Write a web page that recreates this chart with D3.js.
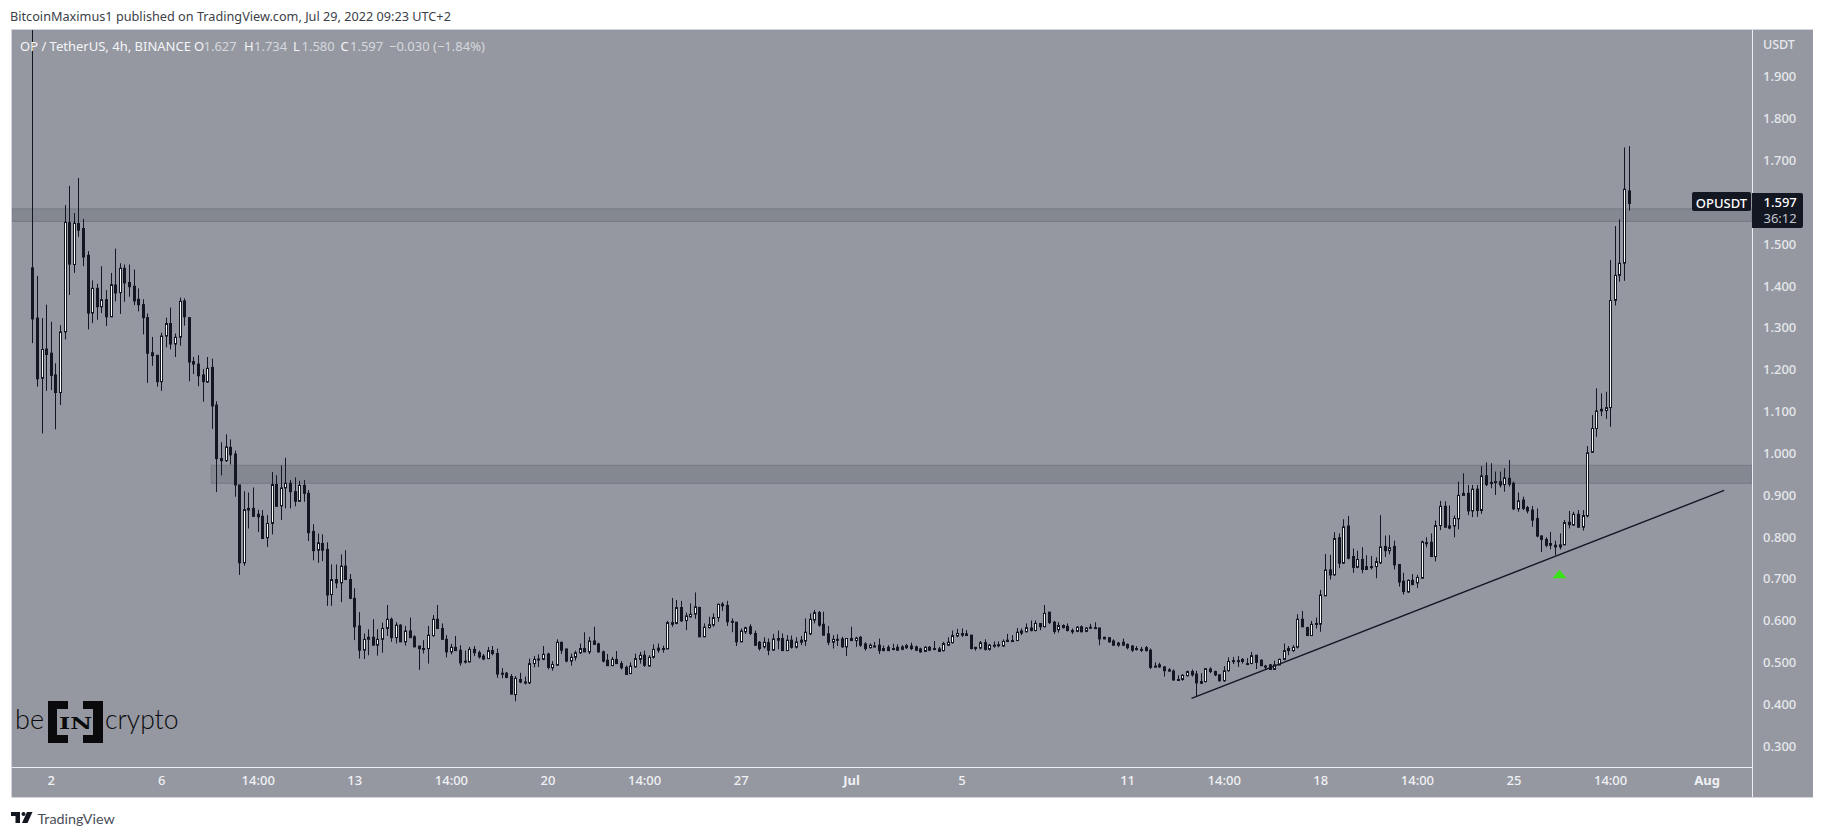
<!DOCTYPE html>
<html>
<head>
<meta charset="utf-8">
<title>OPUSDT</title>
<script src="https://cdn.jsdelivr.net/npm/d3@7"></script>
<style>
body { margin: 0; background: #fff; }
svg { display: block; font-family: "Noto Sans", sans-serif; }
</style>
</head>
<body>
<svg id="chart" width="1824" height="837"></svg>
<script>
// 4h candles
var opens = [
1.443,1.323,1.179,1.249,1.239,1.187,1.145,1.290,1.551,1.451,
1.549,1.537,1.473,1.335,1.394,1.350,1.367,1.326,1.402,1.384,
1.442,1.408,1.399,1.368,1.355,1.324,1.240,1.234,1.171,1.280,
1.310,1.261,1.277,1.364,1.324,1.219,1.213,1.187,1.170,1.205,
1.115,0.987,0.982,1.014,0.998,0.924,0.738,0.868,0.868,0.854,
0.849,0.798,0.832,0.925,0.874,0.917,0.928,0.908,0.885,0.923,
0.904,0.813,0.768,0.784,0.770,0.662,0.698,0.690,0.730,0.698,
0.653,0.587,0.529,0.555,0.560,0.541,0.555,0.581,0.603,0.559,
0.589,0.549,0.575,0.561,0.539,0.533,0.533,0.564,0.603,0.581,
0.555,0.525,0.536,0.529,0.503,0.501,0.531,0.523,0.515,0.509,
0.528,0.521,0.474,0.474,0.466,0.423,0.459,0.453,0.451,0.497,
0.508,0.507,0.520,0.487,0.493,0.548,0.532,0.503,0.512,0.523,
0.533,0.525,0.551,0.544,0.525,0.505,0.492,0.507,0.497,0.488,
0.473,0.489,0.507,0.517,0.491,0.512,0.534,0.533,0.532,0.595,
0.593,0.631,0.600,0.609,0.615,0.631,0.561,0.583,0.589,0.607,
0.639,0.636,0.598,0.596,0.549,0.573,0.585,0.569,0.548,0.537,
0.547,0.529,0.557,0.557,0.528,0.553,0.536,0.548,0.551,0.568,
0.601,0.619,0.591,0.568,0.548,0.555,0.556,0.537,0.557,0.552,
0.560,0.544,0.535,0.539,0.541,0.533,0.536,0.533,0.536,0.531,
0.535,0.539,0.537,0.532,0.526,0.536,0.533,0.532,0.528,0.541,
0.547,0.563,0.569,0.568,0.565,0.536,0.534,0.547,0.531,0.541,
0.542,0.539,0.553,0.552,0.552,0.575,0.573,0.582,0.576,0.593,
0.585,0.620,0.596,0.578,0.588,0.586,0.576,0.574,0.585,0.574,
0.584,0.583,0.582,0.560,0.559,0.551,0.541,0.548,0.543,0.539,
0.533,0.531,0.535,0.529,0.491,0.494,0.489,0.482,0.479,0.459,
0.459,0.468,0.478,0.472,0.454,0.454,0.484,0.478,0.470,0.456,
0.480,0.504,0.504,0.507,0.497,0.497,0.517,0.505,0.491,0.494,
0.483,0.494,0.507,0.533,0.528,0.536,0.603,0.583,0.564,0.593,
0.591,0.659,0.721,0.709,0.798,0.737,0.826,0.753,0.727,0.746,
0.729,0.729,0.729,0.738,0.777,0.767,0.777,0.734,0.694,0.668,
0.696,0.690,0.701,0.786,0.787,0.753,0.827,0.873,0.826,0.826,
0.843,0.899,0.904,0.862,0.914,0.863,0.946,0.930,0.932,0.932,
0.925,0.940,0.928,0.867,0.888,0.870,0.864,0.844,0.802,0.794,
0.784,0.780,0.776,0.781,0.835,0.828,0.854,0.823,0.850,1.002,
1.059,1.105,1.102,1.109,1.365,1.425,1.454,1.627];

var highs = [
2.200,1.424,1.323,1.355,1.314,1.215,1.306,1.593,1.639,1.574,
1.658,1.560,1.483,1.413,1.405,1.447,1.390,1.431,1.489,1.454,
1.451,1.451,1.439,1.394,1.368,1.334,1.278,1.234,1.288,1.324,
1.348,1.286,1.372,1.370,1.324,1.230,1.234,1.201,1.230,1.226,
1.124,1.026,1.045,1.033,1.006,0.924,0.909,0.906,0.918,0.865,
0.864,0.852,0.955,0.947,0.971,0.989,0.936,0.942,0.934,0.936,
0.912,0.830,0.808,0.806,0.787,0.734,0.734,0.758,0.768,0.711,
0.677,0.620,0.569,0.579,0.603,0.579,0.595,0.637,0.607,0.596,
0.591,0.587,0.607,0.565,0.539,0.553,0.587,0.613,0.637,0.593,
0.565,0.544,0.563,0.541,0.528,0.537,0.539,0.528,0.520,0.537,
0.539,0.533,0.486,0.477,0.472,0.467,0.475,0.466,0.509,0.515,
0.519,0.539,0.523,0.503,0.555,0.549,0.532,0.521,0.528,0.545,
0.572,0.561,0.585,0.547,0.528,0.520,0.513,0.527,0.503,0.492,
0.500,0.521,0.525,0.528,0.517,0.543,0.545,0.540,0.599,0.654,
0.649,0.647,0.619,0.641,0.667,0.633,0.593,0.609,0.617,0.639,
0.644,0.647,0.605,0.596,0.581,0.585,0.591,0.576,0.551,0.560,
0.557,0.568,0.576,0.569,0.565,0.564,0.560,0.563,0.605,0.617,
0.625,0.623,0.621,0.587,0.565,0.567,0.561,0.557,0.585,0.561,
0.563,0.548,0.545,0.549,0.557,0.540,0.541,0.544,0.543,0.541,
0.544,0.547,0.540,0.535,0.539,0.539,0.551,0.537,0.549,0.560,
0.576,0.580,0.581,0.577,0.565,0.536,0.551,0.555,0.544,0.550,
0.550,0.555,0.568,0.565,0.582,0.581,0.593,0.600,0.600,0.593,
0.637,0.620,0.599,0.596,0.591,0.593,0.581,0.587,0.588,0.584,
0.592,0.596,0.583,0.561,0.559,0.555,0.549,0.557,0.545,0.541,
0.539,0.537,0.539,0.533,0.500,0.499,0.491,0.486,0.483,0.469,
0.472,0.480,0.483,0.480,0.474,0.486,0.488,0.480,0.471,0.491,
0.512,0.513,0.515,0.510,0.510,0.525,0.517,0.507,0.494,0.496,
0.504,0.509,0.545,0.539,0.541,0.615,0.623,0.585,0.599,0.607,
0.673,0.759,0.757,0.811,0.808,0.842,0.850,0.772,0.767,0.775,
0.756,0.754,0.751,0.852,0.803,0.804,0.791,0.734,0.714,0.698,
0.711,0.709,0.791,0.799,0.808,0.839,0.886,0.885,0.875,0.851,
0.932,0.952,0.924,0.924,0.924,0.969,0.978,0.976,0.956,0.956,
0.964,0.984,0.932,0.906,0.896,0.874,0.874,0.868,0.804,0.799,
0.812,0.791,0.808,0.840,0.862,0.860,0.864,0.864,1.017,1.091,
1.155,1.143,1.147,1.462,1.543,1.559,1.731,1.734];

var lows = [
1.263,1.159,1.047,1.149,1.151,1.057,1.115,1.272,1.378,1.431,
1.517,1.447,1.296,1.311,1.319,1.335,1.304,1.326,1.363,1.333,
1.362,1.374,1.354,1.339,1.284,1.168,1.209,1.159,1.149,1.253,
1.248,1.230,1.257,1.305,1.172,1.189,1.160,1.123,1.168,1.058,
0.907,0.947,0.979,0.973,0.896,0.709,0.731,0.820,0.849,0.812,
0.796,0.776,0.806,0.873,0.840,0.868,0.868,0.873,0.884,0.884,
0.790,0.744,0.738,0.742,0.635,0.635,0.677,0.644,0.697,0.651,
0.553,0.509,0.508,0.517,0.541,0.516,0.523,0.563,0.549,0.545,
0.549,0.540,0.559,0.536,0.482,0.521,0.497,0.561,0.581,0.555,
0.512,0.519,0.528,0.492,0.497,0.500,0.515,0.509,0.505,0.508,
0.517,0.463,0.462,0.462,0.424,0.407,0.450,0.447,0.448,0.488,
0.489,0.505,0.483,0.480,0.492,0.520,0.500,0.492,0.504,0.520,
0.525,0.520,0.543,0.523,0.500,0.492,0.492,0.496,0.483,0.471,
0.472,0.488,0.497,0.489,0.491,0.509,0.523,0.523,0.532,0.585,
0.591,0.597,0.577,0.607,0.604,0.561,0.561,0.581,0.585,0.597,
0.623,0.587,0.572,0.539,0.548,0.568,0.565,0.539,0.528,0.533,
0.517,0.528,0.531,0.528,0.528,0.533,0.533,0.541,0.539,0.565,
0.593,0.585,0.565,0.541,0.533,0.539,0.535,0.515,0.552,0.537,
0.537,0.528,0.533,0.536,0.520,0.527,0.527,0.529,0.528,0.529,
0.532,0.529,0.527,0.523,0.525,0.528,0.529,0.525,0.526,0.539,
0.545,0.560,0.561,0.563,0.531,0.528,0.531,0.528,0.528,0.535,
0.536,0.537,0.549,0.551,0.551,0.565,0.572,0.574,0.574,0.577,
0.584,0.592,0.568,0.571,0.581,0.574,0.568,0.572,0.572,0.572,
0.581,0.582,0.541,0.555,0.547,0.540,0.537,0.540,0.531,0.525,
0.528,0.525,0.526,0.484,0.488,0.487,0.466,0.478,0.456,0.456,
0.456,0.466,0.466,0.418,0.448,0.452,0.474,0.467,0.454,0.454,
0.478,0.496,0.489,0.497,0.496,0.496,0.484,0.491,0.483,0.482,
0.482,0.493,0.505,0.517,0.525,0.533,0.584,0.564,0.563,0.581,
0.573,0.659,0.698,0.707,0.725,0.735,0.746,0.714,0.725,0.713,
0.721,0.722,0.701,0.735,0.752,0.758,0.722,0.681,0.662,0.666,
0.684,0.678,0.700,0.775,0.753,0.741,0.816,0.823,0.818,0.799,
0.818,0.899,0.852,0.847,0.848,0.855,0.921,0.916,0.900,0.918,
0.908,0.920,0.864,0.860,0.864,0.856,0.824,0.799,0.764,0.775,
0.770,0.756,0.770,0.780,0.820,0.826,0.822,0.815,0.847,1.002,
1.039,1.089,1.082,1.063,1.353,1.410,1.412,1.580];

var closes = [
1.321,1.178,1.248,1.236,1.186,1.145,1.290,1.552,1.452,1.550,
1.533,1.469,1.335,1.394,1.350,1.367,1.326,1.403,1.383,1.442,
1.407,1.398,1.364,1.355,1.324,1.239,1.233,1.171,1.280,1.310,
1.261,1.277,1.363,1.326,1.218,1.213,1.185,1.171,1.203,1.113,
0.987,0.982,1.015,0.996,0.924,0.738,0.865,0.864,0.849,0.848,
0.796,0.832,0.925,0.873,0.917,0.928,0.908,0.885,0.923,0.904,
0.810,0.767,0.786,0.768,0.661,0.698,0.690,0.730,0.698,0.653,
0.585,0.529,0.555,0.560,0.541,0.555,0.581,0.603,0.559,0.589,
0.549,0.575,0.559,0.537,0.533,0.533,0.565,0.603,0.581,0.555,
0.525,0.536,0.528,0.499,0.503,0.531,0.523,0.513,0.508,0.528,
0.521,0.472,0.473,0.464,0.424,0.462,0.453,0.453,0.497,0.507,
0.508,0.519,0.488,0.495,0.548,0.529,0.503,0.512,0.523,0.533,
0.525,0.551,0.543,0.525,0.503,0.492,0.507,0.497,0.487,0.471,
0.491,0.509,0.517,0.493,0.512,0.531,0.529,0.531,0.595,0.591,
0.631,0.599,0.611,0.615,0.633,0.561,0.584,0.590,0.607,0.639,
0.635,0.597,0.596,0.549,0.575,0.583,0.569,0.541,0.533,0.548,
0.529,0.556,0.553,0.528,0.553,0.536,0.549,0.553,0.572,0.603,
0.619,0.589,0.565,0.548,0.555,0.555,0.537,0.557,0.552,0.558,
0.541,0.533,0.541,0.539,0.528,0.528,0.528,0.533,0.529,0.537,
0.540,0.533,0.529,0.525,0.536,0.529,0.532,0.526,0.545,0.548,
0.564,0.569,0.565,0.564,0.533,0.533,0.547,0.531,0.541,0.541,
0.542,0.550,0.550,0.552,0.572,0.570,0.583,0.576,0.593,0.585,
0.617,0.595,0.574,0.588,0.583,0.576,0.573,0.584,0.573,0.582,
0.582,0.583,0.556,0.556,0.549,0.541,0.546,0.541,0.535,0.529,
0.532,0.531,0.528,0.488,0.491,0.489,0.480,0.479,0.458,0.459,
0.469,0.478,0.470,0.451,0.450,0.485,0.478,0.470,0.456,0.480,
0.502,0.504,0.504,0.502,0.497,0.516,0.500,0.492,0.491,0.483,
0.494,0.507,0.528,0.528,0.536,0.603,0.585,0.564,0.591,0.593,
0.661,0.721,0.709,0.796,0.737,0.824,0.749,0.727,0.746,0.722,
0.722,0.729,0.741,0.776,0.767,0.774,0.733,0.692,0.669,0.696,
0.686,0.703,0.788,0.786,0.753,0.827,0.873,0.823,0.821,0.844,
0.899,0.904,0.862,0.914,0.863,0.946,0.925,0.930,0.931,0.924,
0.941,0.926,0.867,0.886,0.868,0.862,0.840,0.802,0.794,0.780,
0.780,0.776,0.781,0.834,0.829,0.854,0.823,0.851,1.001,1.059,
1.101,1.101,1.109,1.365,1.425,1.454,1.631,1.597];

var priceTicks = [1.9,1.8,1.7,1.6,1.5,1.4,1.3,1.2,1.1,1.0,0.9,0.8,0.7,0.6,0.5,0.4,0.3];
var timeTicks = [4,28,49,70,91,112,133,154,178,202,238,259,280,301,322,343,364];
var timeLabels = ["2","6","14:00","13","14:00","20","14:00","27","Jul","5","11","14:00","18","14:00","25","14:00","Aug"];

var upperZone = [1.584,1.554];
var lowerZone = [0.971,0.928];
var lowerZoneStart = 38.9;
var trendIdx = [252,367.8];
var trendPrice = [0.414,0.911];
var arrowIdx = 332;
var arrowPrice = 0.708;
var lastPrice = 1.597;

var left = 12, right = 1752, outer = 1813, top_ = 30, bottom = 767, end = 797;
var bg = "#9598a1", ink = "#131722";

var x = d3.scaleLinear().domain([0,347]).range([32.3,1628.5]);
var y = d3.scaleLinear().domain([0.3,1.9]).range([746,76.7]);

var svg = d3.select("#chart");

svg.append("text").attr("x",10).attr("y",21)
    .attr("font-size",12.7).attr("fill","#3c3f48")
    .text("BitcoinMaximus1 published on TradingView.com, Jul 29, 2022 09:23 UTC+2");

// panel
svg.append("rect").attr("x",left).attr("y",top_)
    .attr("width",outer-left).attr("height",end-top_)
    .attr("fill",bg);
svg.append("path").attr("d","M"+(left-.5)+","+end+"V"+(top_-.5)+"H"+outer)
    .attr("fill","none").attr("stroke","#d1d4dc");
svg.append("path").attr("d","M"+(left-.5)+","+(end+.5)+"H"+outer)
    .attr("fill","none").attr("stroke","#d1d4dc");
svg.append("line").attr("x1",right+.5).attr("x2",right+.5).attr("y1",top_).attr("y2",end)
    .attr("stroke","#eceef2");
svg.append("line").attr("x1",left).attr("x2",right).attr("y1",bottom+.5).attr("y2",bottom+.5)
    .attr("stroke","#eceef2");

svg.append("clipPath").attr("id","plot").append("rect")
    .attr("x",left).attr("y",top_).attr("width",right-left).attr("height",bottom-top_);
var plot = svg.append("g").attr("clip-path","url(#plot)");

// grey zones
var drawZone = function(prices, xStart)
{
    plot.append("rect")
        .attr("x",xStart).attr("y",y(prices[0]))
        .attr("width",right-xStart).attr("height",y(prices[1])-y(prices[0]))
        .attr("fill","#131722").attr("fill-opacity",.12)
        .attr("stroke","#787b84").attr("stroke-width",1);
}
drawZone(upperZone,left);
drawZone(lowerZone,x(lowerZoneStart));

// candles
var candles = d3.range(opens.length);
var px = function(i) {return Math.round(x(i));};

plot.selectAll("line.wick")
    .data(candles)
    .enter()
    .append("line")
    .attr("class","wick")
    .attr("x1",function(i){return px(i)+.5;})
    .attr("x2",function(i){return px(i)+.5;})
    .attr("y1",function(i){return y(highs[i]);})
    .attr("y2",function(i){return y(lows[i]);})
    .attr("stroke",ink)
    .attr("stroke-width",1);

plot.selectAll("rect.body")
    .data(candles)
    .enter()
    .append("rect")
    .attr("class","body")
    .attr("x",function(i){return px(i)-.5;})
    .attr("width",2)
    .attr("y",function(i){return y(Math.max(opens[i],closes[i]));})
    .attr("height",function(i){return Math.max(1,Math.abs(y(opens[i])-y(closes[i])));})
    .attr("fill",function(i){return closes[i]>opens[i] ? "#fff" : ink;})
    .attr("stroke",ink)
    .attr("stroke-width",1);

// trend line and arrow
plot.append("path")
    .attr("d",d3.line().x(function(d){return x(d[0]);}).y(function(d){return y(d[1]);})(d3.zip(trendIdx,trendPrice)))
    .attr("fill","none").attr("stroke",ink).attr("stroke-width",1.4);

svg.append("filter").attr("id","soft").append("feGaussianBlur").attr("stdDeviation",.4);
plot.append("path")
    .attr("d",d3.symbol(d3.symbolTriangle,85))
    .attr("transform","translate("+x(arrowIdx)+","+y(arrowPrice)+") scale(1,.7)")
    .attr("fill","#38e414").attr("filter","url(#soft)");

// legend
var legend = [
    {t:"OP / TetherUS, 4h, BINANCE",x:20,c:"#f4f5f7"},
    {t:"O",x:194,c:"#f4f5f7"},{t:"1.627",x:203.5,c:"#d6d8de"},
    {t:"H",x:244,c:"#f4f5f7"},{t:"1.734",x:254,c:"#d6d8de"},
    {t:"L",x:293,c:"#f4f5f7"},{t:"1.580",x:301.5,c:"#d6d8de"},
    {t:"C",x:340.5,c:"#f4f5f7"},{t:"1.597",x:350,c:"#d6d8de"},
    {t:"\u22120.030",x:389,c:"#d6d8de"},{t:"(\u22121.84%)",x:433,c:"#d6d8de"}
];
svg.selectAll("text.legend")
    .data(legend)
    .enter()
    .append("text")
    .attr("class","legend")
    .attr("x",function(d){return d.x;})
    .attr("y",51)
    .attr("font-size",13)
    .attr("fill",function(d){return d.c;})
    .text(function(d){return d.t;});

// price axis
var yAxis = d3.axisRight(y).tickValues(priceTicks).tickFormat(d3.format(".3f")).tickSize(0).tickPadding(11);
var yG = svg.append("g").attr("transform","translate("+right+",0)").call(yAxis);
yG.select(".domain").remove();
yG.selectAll("text").attr("font-family","\"Noto Sans\"").attr("font-size",13).attr("font-weight",500).attr("fill","#e6e8ec");
// the last price box sits over 1.600
yG.selectAll(".tick").filter(function(d){return d==1.6;}).remove();

svg.append("text").attr("x",1763).attr("y",49)
    .attr("font-size",12.5).attr("font-weight",500).attr("fill","#e6e8ec").text("USDT");

// time axis
var xAxis = d3.axisBottom(x).tickValues(timeTicks)
    .tickFormat(function(d,i){return timeLabels[i];}).tickSize(0).tickPadding(9);
var xG = svg.append("g").attr("transform","translate(0,"+bottom+")").call(xAxis);
xG.select(".domain").remove();
xG.selectAll("text")
    .attr("font-family","\"Noto Sans\"").attr("font-size",13)
    .attr("font-weight",function(d,i){return (timeLabels[i]=="Jul"||timeLabels[i]=="Aug") ? 700 : 500;})
    .attr("fill","#f0f1f4");

// last price labels
svg.append("rect").attr("x",1692).attr("y",192).attr("width",59).attr("height",19).attr("rx",2).attr("fill",ink);
svg.append("text").attr("x",1721.5).attr("y",y(lastPrice)+5).attr("text-anchor","middle")
    .attr("font-size",13).attr("font-weight",500).attr("fill","#fff").text("OPUSDT");
svg.append("path").attr("d","M1752,193H1801a2,2 0 0 1 2,2V226a2,2 0 0 1 -2,2H1752Z").attr("fill",ink);
svg.append("text").attr("x",1763.5).attr("y",207).attr("font-size",13).attr("font-weight",500).attr("fill","#fff").text("1.597");
svg.append("text").attr("x",1763.5).attr("y",223).attr("font-size",13).attr("fill","#c3c6cd").text("36:12");

// beincrypto mark
var logo = svg.append("g").attr("fill","#0a0a0c");
logo.append("text").attr("x",15).attr("y",729).attr("font-family","Lato").attr("font-weight",300).attr("font-size",27).text("be");
logo.append("text").attr("x",105).attr("y",729).attr("font-family","Lato").attr("font-weight",300).attr("font-size",26.5).text("crypto");
logo.append("path").attr("d","M48,701H68V709H57V735H68V743H48Z");
logo.append("path").attr("d","M103,701H83V709H93V735H83V743H103Z");
logo.append("text").attr("x",59).attr("y",728.5)
    .attr("font-family","\"DejaVu Serif\"").attr("font-weight",700).attr("font-size",17)
    .attr("textLength",33).attr("lengthAdjust","spacingAndGlyphs").text("IN");

// TradingView footer
var tv = svg.append("g").attr("fill","#131722");
tv.append("path").attr("d","M11,812H20V823H15.5V816H11Z");
tv.append("circle").attr("cx",23.5).attr("cy",814).attr("r",2);
tv.append("path").attr("d","M27,812H32.5L27.5,823H22Z");
svg.append("text").attr("x",37.5).attr("y",823.5).attr("font-family","Lato").attr("font-size",14.3).attr("fill","#4a4e59").text("TradingView");
</script>
</body>
</html>
